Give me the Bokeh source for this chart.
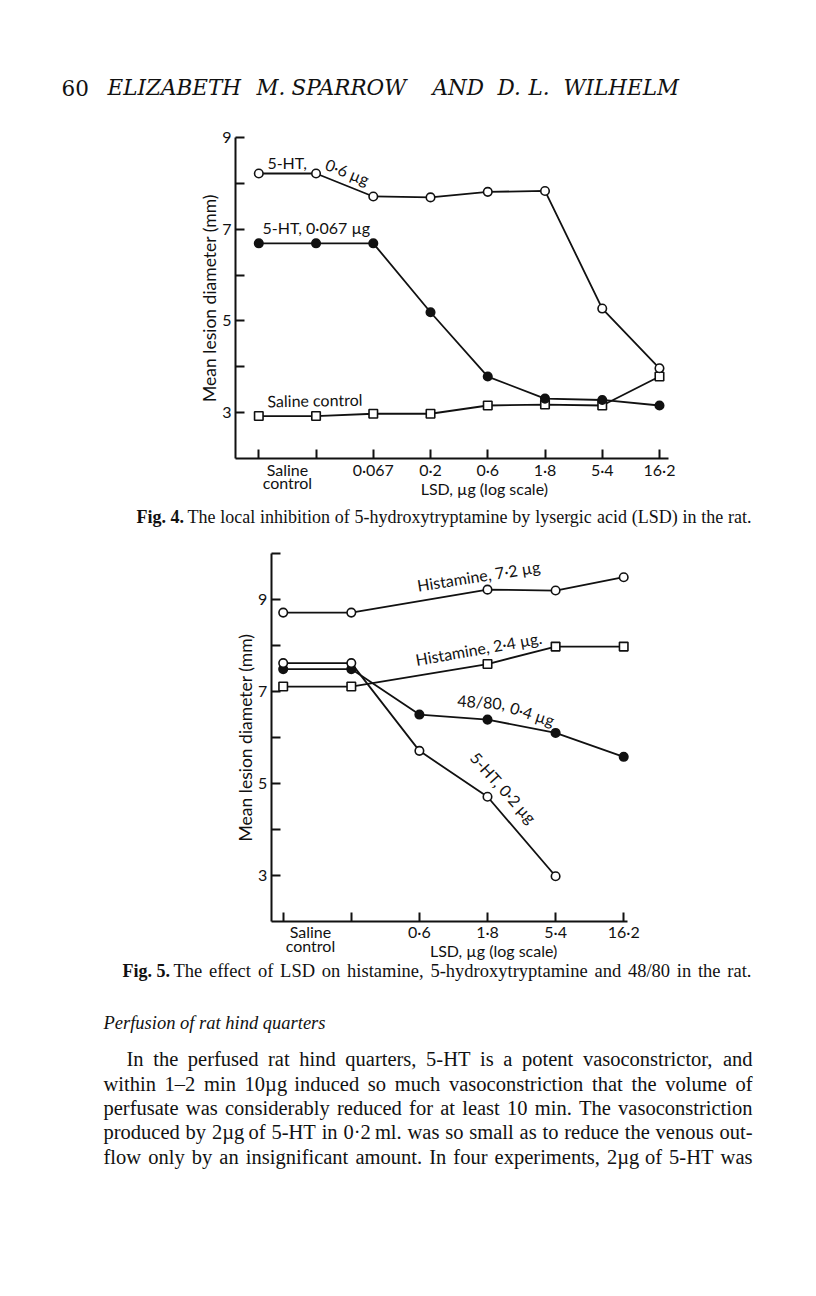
from bokeh.plotting import figure
from bokeh.models import FixedTicker, Label, LinearAxis, Range1d
from bokeh.embed import file_html
from bokeh.resources import INLINE

# ---------------- data: Fig. 4 ----------------
fig4_pos = [0, 1, 2, 3, 4, 5, 6, 7]
fig4_lsd_labels = ["Saline\ncontrol", "Saline\ncontrol", "0·067", "0·2", "0·6", "1·8", "5·4", "16·2"]
fig4_ht_06 = [8.21, 8.21, 7.71, 7.69, 7.81, 7.83, 5.27, 3.97]
fig4_ht_0067 = [6.69, 6.69, 6.69, 5.19, 3.79, 3.31, 3.28, 3.16]
fig4_saline = [2.93, 2.93, 2.98, 2.98, 3.16, 3.18, 3.16, 3.79]
fig4_yticks = [3, 4, 5, 6, 7, 8, 9]

# ---------------- data: Fig. 5 ----------------
fig5_pos = [0, 1, 2, 3, 4, 5]
fig5_lsd_labels = ["Saline\ncontrol", "Saline\ncontrol", "0·6", "1·8", "5·4", "16·2"]
fig5_hist72_pos = [0, 1, 3, 4, 5]
fig5_hist72 = [8.72, 8.72, 9.22, 9.20, 9.49]
fig5_hist24_pos = [0, 1, 3, 4, 5]
fig5_hist24 = [7.11, 7.11, 7.60, 7.98, 7.98]
fig5_c4880_pos = [0, 1, 2, 3, 4, 5]
fig5_c4880 = [7.49, 7.49, 6.50, 6.39, 6.10, 5.58]
fig5_ht02_pos = [0, 1, 2, 3, 4]
fig5_ht02 = [7.62, 7.62, 5.71, 4.71, 2.98]
fig5_yticks = [3, 4, 5, 6, 7, 8, 9, 10]

# ---------------- page text ----------------
header_words = ["60", "ELIZABETH", "M.", "SPARROW", "AND", "D.", "L.", "WILHELM"]
caption4 = ("Fig. 4.", "The local inhibition of 5-hydroxytryptamine by lysergic acid (LSD) in the rat.")
caption5 = ("Fig. 5.", "The effect of LSD on histamine, 5-hydroxytryptamine and 48/80 in the rat.")
section_heading = "Perfusion of rat hind quarters"
para_lines = [
    "In the perfused rat hind quarters, 5-HT is a potent vasoconstrictor, and",
    "within 1–2 min 10µg induced so much vasoconstriction that the volume of",
    "perfusate was considerably reduced for at least 10 min. The vasoconstriction",
    "produced by 2µg of 5-HT in 0·2 ml. was so small as to reduce the venous out-",
    "flow only by an insignificant amount.  In four experiments, 2µg of 5-HT was",
]

INK = "#111111"
SANS = "Lato"
SERIF = "Liberation Serif"
WIDE_SERIF = "DejaVu Serif"
W, H = 816, 1296

# Times-compatible advance widths (1/1000 em) used to justify serif lines
_TW = dict(zip("abcdefghijklmnopqrstuvwxyz",
               [444, 500, 444, 500, 444, 333, 500, 500, 278, 278, 500, 278, 778,
                500, 500, 500, 500, 333, 389, 278, 500, 500, 722, 500, 500, 444]))
_TW.update(dict(zip("ABCDEFGHIJKLMNOPQRSTUVWXYZ",
                    [722, 667, 667, 722, 611, 556, 722, 722, 333, 389, 722, 611, 889,
                     722, 722, 556, 722, 667, 556, 611, 722, 722, 944, 722, 722, 611])))
_TW.update({c: 500 for c in "0123456789"})
_TW.update({" ": 250, ".": 250, ",": 250, "-": 333, "–": 500, "(": 333, ")": 333,
            "/": 278, "µ": 500, "·": 250, ":": 278})


def serif_width(s, size):
    return sum(_TW.get(c, 500) for c in s) * size / 1000.0


p = figure(width=W, height=H, x_range=Range1d(0, W), y_range=Range1d(H, 0),
           x_axis_type=None, y_axis_type=None, output_backend="svg",
           toolbar_location=None, min_border=0)
p.outline_line_color = None
p.background_fill_color = "white"
p.border_fill_color = "white"


def add_chart(name, x0_px, xunit_px, yref_val, yref_px, yunit_px):
    """Map chart data coordinates onto page pixels using named extra ranges."""
    xs = (0 - x0_px) / xunit_px
    xe = (W - x0_px) / xunit_px
    y_top = yref_val + yref_px / yunit_px
    y_bot = yref_val - (H - yref_px) / yunit_px
    p.extra_x_ranges[name + "x"] = Range1d(xs, xe)
    p.extra_y_ranges[name + "y"] = Range1d(y_bot, y_top)
    return name + "x", name + "y"


def tick_overrides(pos, labels, group_shift=0.0):
    groups = {}
    for p_, lab in zip(pos, labels):
        groups.setdefault(lab, []).append(p_)
    ticks, over = [], {}
    for lab, ps in groups.items():
        t = sum(ps) / len(ps) + (group_shift if len(ps) > 1 else 0.0)
        ticks.append(t)
        over[t] = lab
    return ticks, over


def add_axes(xn, yn, xlim, ylim, pos, labels, yticks, group_shift=0.0):
    ticks, over = tick_overrides(pos, labels, group_shift)
    ax = LinearAxis(x_range_name=xn, y_range_name=yn, fixed_location=ylim[0], bounds=xlim,
                    ticker=FixedTicker(ticks=ticks, minor_ticks=pos))
    ax.major_label_overrides = over
    ax.major_tick_line_color = None
    ax.major_tick_in = 0
    ax.major_tick_out = 0
    ax.minor_tick_in = 9
    ax.minor_tick_out = 0
    ax.minor_tick_line_width = 2
    ax.minor_tick_line_color = INK
    ax.axis_line_width = 2
    ax.axis_line_color = INK
    ax.major_label_standoff = 1
    ax.major_label_text_font = SANS
    ax.major_label_text_font_size = "16px"
    ax.major_label_text_line_height = 0.72
    ax.major_label_text_color = INK
    p.add_layout(ax, "below")

    ay = LinearAxis(x_range_name=xn, y_range_name=yn, fixed_location=xlim[0], bounds=ylim,
                    ticker=FixedTicker(ticks=yticks))
    ay.major_label_overrides = {t: (str(t) if t % 2 == 1 else "") for t in yticks}
    ay.major_tick_in = 9
    ay.major_tick_out = 0
    ay.major_tick_line_width = 2
    ay.major_tick_line_color = INK
    ay.minor_tick_line_color = None
    ay.axis_line_width = 2
    ay.axis_line_color = INK
    ay.major_label_standoff = 4
    ay.major_label_text_font = SANS
    ay.major_label_text_font_size = "16px"
    ay.major_label_text_color = INK
    ay.axis_label = "Mean lesion diameter (mm)"
    ay.axis_label_text_font = SANS
    ay.axis_label_text_font_size = "17.5px"
    ay.axis_label_text_font_style = "normal"
    ay.axis_label_text_color = INK
    ay.axis_label_standoff = -1
    p.add_layout(ay, "left")


def series(xn, yn, x, y, marker, filled):
    p.line(x, y, line_color=INK, line_width=1.8, x_range_name=xn, y_range_name=yn)
    fc = INK if filled else "white"
    p.scatter(x, y, marker=marker, size=8.5, fill_color=fc, line_color=INK, line_width=1.6,
              x_range_name=xn, y_range_name=yn)


def note(x, y, text, angle=0, align="left", size="16px", xn="default", yn="default",
         font=SANS, style="normal"):
    p.add_layout(Label(x=x, y=y, x_range_name=xn, y_range_name=yn, text=text, angle=angle,
                       angle_units="deg", text_align=align, text_baseline="middle",
                       text_font=font, text_font_size=size, text_font_style=style,
                       text_color=INK))


def justified(text, x0, x1, y, size, style="normal"):
    """Set a line word by word, spreading the spare room evenly over the gaps."""
    words = text.split()
    widths = [serif_width(w, size) for w in words]
    gap = (x1 - x0 - sum(widths)) / max(len(words) - 1, 1)
    x = x0
    for w, wd in zip(words, widths):
        note(x, y, w, font=SERIF, size=f"{size}px", style=style)
        x += wd + gap


# ---------------- Fig. 4 ----------------
f4x, f4y = add_chart("f4", 258.3, 57.24, 9, 136.7, 45.94)
add_axes(f4x, f4y, (-0.407, 7.157), (2, 9), fig4_pos, fig4_lsd_labels, fig4_yticks)
series(f4x, f4y, fig4_pos, fig4_saline, "square", False)
series(f4x, f4y, fig4_pos, fig4_ht_0067, "circle", True)
series(f4x, f4y, fig4_pos, fig4_ht_06, "circle", False)

note(0.15, 8.45, "5-HT,", xn=f4x, yn=f4y)
note(1.55, 8.25, "0·6 µg", angle=-22, align="center", xn=f4x, yn=f4y)
note(0.065, 7.03, "5-HT, 0·067 µg", xn=f4x, yn=f4y)
note(0.15, 3.26, "Saline  control", angle=1, xn=f4x, yn=f4y)
note(3.94, 1.36, "LSD, µg (log scale)", align="center", xn=f4x, yn=f4y)

# ---------------- Fig. 5 ----------------
f5x, f5y = add_chart("f5", 282.7, 68.1, 10, 553.3, 45.93)
add_axes(f5x, f5y, (-0.176, 5.05), (2, 10), fig5_pos, fig5_lsd_labels, fig5_yticks,
         group_shift=-0.1)
series(f5x, f5y, fig5_hist24_pos, fig5_hist24, "square", False)
series(f5x, f5y, fig5_c4880_pos, fig5_c4880, "circle", True)
series(f5x, f5y, fig5_ht02_pos, fig5_ht02, "circle", False)
series(f5x, f5y, fig5_hist72_pos, fig5_hist72, "circle", False)

note(2.90, 9.53, "Histamine,  7·2 µg", angle=9, align="center", xn=f5x, yn=f5y)
note(2.87, 7.94, "Histamine, 2·4 µg.", angle=10, align="center", xn=f5x, yn=f5y)
note(2.91, 6.78, "48/80,", angle=-4, align="center", xn=f5x, yn=f5y)
note(3.66, 6.52, "0·4 µg", angle=-18, align="center", xn=f5x, yn=f5y)
note(3.235, 4.91, "5-HT, 0·2 µg", angle=-48, align="center", xn=f5x, yn=f5y)
note(3.09, 1.36, "LSD, µg (log scale)", align="center", xn=f5x, yn=f5y)

# ---------------- page text (page pixel coordinates) ----------------
header_x = [61, 107, 256, 291, 432, 497, 528, 563]
for w, hx in zip(header_words, header_x):
    note(hx, 87, w, font=WIDE_SERIF, size="21.5px", style="normal" if w == "60" else "italic")

note(136, 516, caption4[0], font=SERIF, size="18px", style="bold")
justified(caption4[1], 187, 751, 516, 18)
note(122, 970, caption5[0], font=SERIF, size="18px", style="bold")
justified(caption5[1], 173, 751, 970, 18.5)
note(103, 1022, section_heading, font=SERIF, size="18.5px", style="italic")

para_x = [126, 103, 103, 103, 103]
para_y = [1058, 1083, 1107, 1131, 1156]
for t, px, pyy in zip(para_lines, para_x, para_y):
    justified(t, px, 752, pyy, 20.5)

open("out.html", "w").write(file_html(p, INLINE))
